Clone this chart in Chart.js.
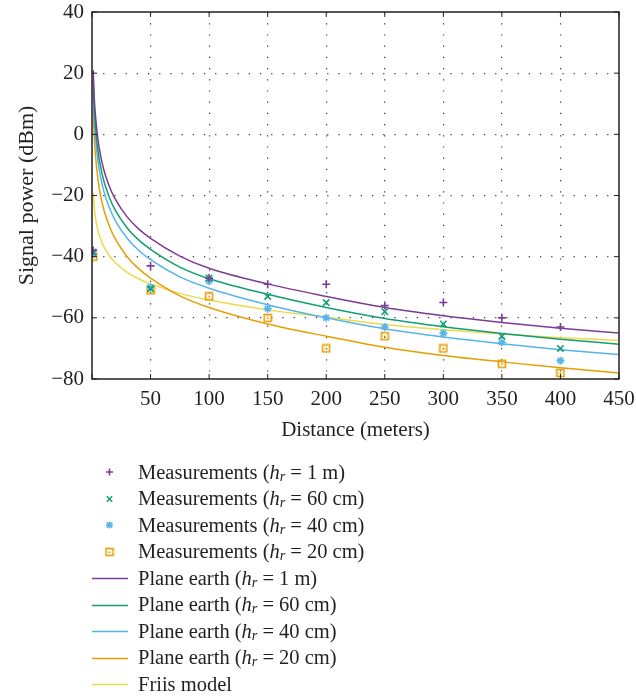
<!DOCTYPE html>
<html>
<head>
<meta charset="utf-8">
<script src="https://cdn.jsdelivr.net/npm/chart.js@4.4.1/dist/chart.umd.min.js"></script>
<style>
  body { margin: 0; background: #fff; }
  #wrap { position: relative; width: 636px; height: 699px; }
  #chart { position: absolute; left: 0; top: 0; }
  #legend {
    position: absolute; left: 92px; top: 459px;
    font-family: "Liberation Serif", "DejaVu Serif", serif;
    font-size: 20.5px; color: #231f20;
  }
  .row { height: 26.5px; display: flex; align-items: center; white-space: nowrap; }
  .row canvas { margin-right: 10px; }
  .eq { margin: 0 5px; }
  sub { font-size: 70%; position: relative; top: 0.15em; line-height: 0; vertical-align: baseline; }
</style>
</head>
<body>
<div id="wrap">
  <canvas id="chart" width="636" height="450"></canvas>
  <div id="legend"></div>
</div>
<script>
// Jarak (meter) untuk titik pengukuran dan untuk kurva model
const measDist = [1, 50, 100, 150, 200, 250, 300, 350, 400];
const modelDist = [1, 2, 3, 5, 7, 10, 15, 20, 30, 40, 50, 75, 100, 150, 200, 250, 300, 350, 400, 450];

// Pengukuran (dBm)
const meas1m = [-38, -43, -47, -49, -49, -56, -55, -60, -63];
const meas60cm = [-38.5, -50.5, -47, -53, -55, -58, -62, -66, -70];
const meas40cm = [-39, -50, -48, -57, -60, -63, -65, -68, -74];
const meas20cm = [-40, -51, -53, -60, -70, -66, -70, -75, -78];

// Model plane earth dan Friis (dBm)
const plane1m = [21, 11.5, 6, -1.5, -6.3, -11.5, -17.2, -21.3, -27, -31, -34, -39.8, -43.8, -48.9, -53, -56.6, -59.3, -61.5, -63.4, -65];
const plane60cm = [17.4, 7.9, 2.4, -5.1, -9.9, -15.1, -20.8, -24.9, -30.6, -34.6, -37.6, -43.4, -47.2, -52.3, -56.6, -60.2, -62.9, -65.1, -67, -68.6];
const plane40cm = [14, 4.5, -1, -8.5, -13.3, -18.5, -24.2, -28.3, -34, -38, -41, -46.6, -50.3, -55.7, -60, -63.6, -66.3, -68.5, -70.4, -72];
const plane20cm = [8, -1.5, -7, -14.5, -19.3, -24.5, -30.2, -34.3, -40, -44, -47, -52.8, -56.6, -62, -66, -69.6, -72.3, -74.4, -76.3, -78];
const friis = [-19, -24.3, -27.4, -31.3, -33.9, -36.6, -39.8, -42, -45.1, -47.3, -48.9, -52, -54.2, -57.4, -59.8, -62.2, -63.9, -65.3, -66.5, -67.4];

// Sumbu
const xTicks = [0, 50, 100, 150, 200, 250, 300, 350, 400, 450];
const yTicks = [-80, -60, -40, -20, 0, 20, 40];
const heights = ["1 m", "60 cm", "40 cm", "20 cm"];

const colors = ["#7e3b96", "#119e73", "#56b4e9", "#e69f00", "#ecd94a"];
const ink = "#231f20";
const serif = "'Liberation Serif', 'DejaVu Serif', serif";

function toPoints(xs, ys) {
  return xs.map((x, i) => ({ x: x, y: ys[i] }));
}

// Kotak dengan titik kecil di tengah (penanda h = 20 cm)
function squareDot(color) {
  const c = document.createElement("canvas");
  c.width = 10; c.height = 10;
  const g = c.getContext("2d");
  g.strokeStyle = color; g.lineWidth = 1.6;
  g.strokeRect(1.5, 1.5, 7, 7);
  g.fillStyle = color;
  g.fillRect(4, 4.5, 2, 1.5);
  return c;
}

const markerStyles = ["cross", "crossRot", "star", squareDot(colors[3])];
const markerRadius = [4, 4.5, 4, 5];

const datasets = [];
[meas1m, meas60cm, meas40cm, meas20cm].forEach((vals, i) => {
  datasets.push({
    label: "Measurements (hr = " + heights[i] + ")",
    data: toPoints(measDist, vals),
    pointStyle: markerStyles[i],
    pointRadius: markerRadius[i],
    borderColor: colors[i],
    backgroundColor: colors[i],
    borderWidth: 1.6,
    showLine: false
  });
});
[plane1m, plane60cm, plane40cm, plane20cm, friis].forEach((vals, i) => {
  datasets.push({
    label: i < 4 ? "Plane earth (hr = " + heights[i] + ")" : "Friis model",
    data: toPoints(modelDist, vals),
    showLine: true,
    pointRadius: 0,
    borderColor: colors[i],
    borderWidth: 1.5,
    cubicInterpolationMode: "monotone"
  });
});

// Bingkai dan tanda tick ke dalam, seperti gaya MATLAB
const framePlugin = {
  id: "frame",
  afterDraw(chart) {
    const { ctx, chartArea: a, scales } = chart;
    ctx.save();
    ctx.strokeStyle = ink;
    ctx.lineWidth = 1.5;
    ctx.strokeRect(a.left, a.top, a.right - a.left, a.bottom - a.top);
    ctx.lineWidth = 1;
    ctx.beginPath();
    xTicks.forEach(v => {
      const px = scales.x.getPixelForValue(v);
      ctx.moveTo(px, a.bottom); ctx.lineTo(px, a.bottom - 5);
      ctx.moveTo(px, a.top); ctx.lineTo(px, a.top + 5);
    });
    yTicks.forEach(v => {
      const py = scales.y.getPixelForValue(v);
      ctx.moveTo(a.left, py); ctx.lineTo(a.left + 5, py);
      ctx.moveTo(a.right, py); ctx.lineTo(a.right - 5, py);
    });
    ctx.stroke();
    ctx.restore();
  }
};

const dotted = ctx => (ctx.tick && (ctx.index === 0 || ctx.index === ctx.scale.ticks.length - 1)) ? "rgba(0,0,0,0)" : "#333";

const chart = new Chart(document.getElementById("chart"), {
  type: "scatter",
  data: { datasets: datasets },
  options: {
    responsive: false,
    animation: false,
    devicePixelRatio: 1,
    layout: { padding: { top: 12, right: 17, left: 0, bottom: 0 } },
    plugins: { legend: { display: false }, tooltip: { enabled: false } },
    scales: {
      x: {
        type: "linear", min: 0, max: 450,
        afterBuildTicks: s => { s.ticks = xTicks.map(v => ({ value: v })); },
        afterFit: s => { s.height = 71; s.paddingLeft = 0; s.paddingRight = 0; },
        border: { display: false, dash: [1.2, 10] },
        grid: { color: dotted, lineWidth: 1.2, drawTicks: false },
        ticks: {
          padding: 8, color: ink, font: { family: serif, size: 21 },
          callback: v => v === 0 ? "" : String(v)
        },
        title: { display: true, text: "Distance (meters)", color: ink, font: { family: serif, size: 21 }, padding: { top: 0, bottom: 7 } }
      },
      y: {
        type: "linear", min: -80, max: 40,
        afterBuildTicks: s => { s.ticks = yTicks.map(v => ({ value: v })); },
        afterFit: s => { s.width = 92; s.paddingTop = 0; s.paddingBottom = 0; },
        border: { display: false, dash: [1.2, 10] },
        grid: { color: dotted, lineWidth: 1.2, drawTicks: false },
        ticks: {
          padding: 8, color: ink, font: { family: serif, size: 21 },
          callback: v => v < 0 ? "\u2212" + Math.abs(v) : String(v)
        },
        title: { display: true, text: "Signal power (dBm)", color: ink, font: { family: serif, size: 22 }, padding: { top: 14, bottom: 0 } }
      }
    }
  },
  plugins: [framePlugin]
});

// Legenda HTML supaya h bisa miring dengan subskrip r
function legendSymbol(i) {
  const c = document.createElement("canvas");
  c.width = 36; c.height = 20;
  const g = c.getContext("2d");
  const cx = 17.5, cy = 10;
  g.lineWidth = 1.5;
  if (i < 4) {
    g.strokeStyle = colors[i];
    g.beginPath();
    if (i === 0 || i === 2) { g.moveTo(cx - 3.5, cy); g.lineTo(cx + 3.5, cy); g.moveTo(cx, cy - 3.5); g.lineTo(cx, cy + 3.5); }
    if (i === 1 || i === 2) { g.moveTo(cx - 2.7, cy - 2.7); g.lineTo(cx + 2.7, cy + 2.7); g.moveTo(cx - 2.7, cy + 2.7); g.lineTo(cx + 2.7, cy - 2.7); }
    g.stroke();
    if (i === 3) g.drawImage(squareDot(colors[3]), cx - 5, cy - 5);
  } else {
    g.strokeStyle = colors[i - 4];
    g.beginPath(); g.moveTo(0, 10.5); g.lineTo(36, 10.5); g.stroke();
  }
  return c;
}

const legendEl = document.getElementById("legend");
for (let i = 0; i < 9; i++) {
  const row = document.createElement("div");
  row.className = "row";
  row.appendChild(legendSymbol(i));
  const span = document.createElement("span");
  const hr = "(<i>h<sub>r</sub></i><span class=\"eq\">=</span>";
  if (i < 4) span.innerHTML = "Measurements " + hr + heights[i] + ")";
  else if (i < 8) span.innerHTML = "Plane earth " + hr + heights[i - 4] + ")";
  else span.textContent = "Friis model";
  row.appendChild(span);
  legendEl.appendChild(row);
}
</script>
</body>
</html>
